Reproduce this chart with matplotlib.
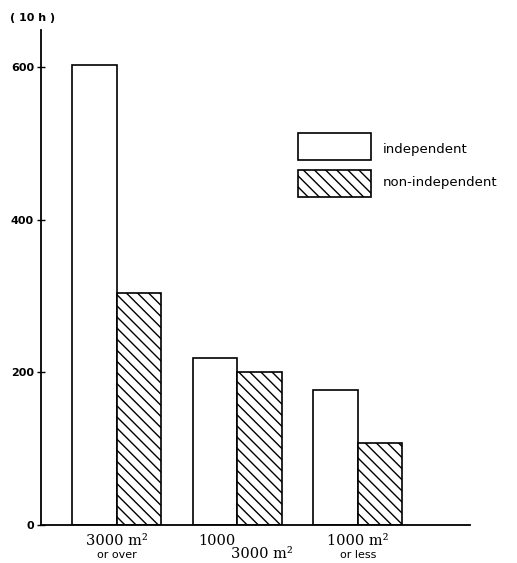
import matplotlib
matplotlib.use("Agg")
import matplotlib.pyplot as plt
from matplotlib.patches import Rectangle
import numpy as np

# area classes (x axis) and hours in units of 10 h
groups = ["3000 m² or over", "1000 - 3000 m²", "1000 m² or less"]
independent = [603, 219, 177]
non_independent = [304, 200, 107]
yticks = [0, 200, 400, 600]

fig = plt.figure(figsize=(5.17, 5.63), dpi=100)
ax = fig.add_axes([0.079, 0.0675, 0.83, 0.88])

x = np.arange(len(groups))
w = 0.37
ax.bar(x - w / 2, independent, w, facecolor="white", edgecolor="black", linewidth=1.2)
ax.bar(x + w / 2, non_independent, w, facecolor="white", edgecolor="black",
       linewidth=1.2, hatch="\\\\\\")

ax.set_xlim(-0.63, 2.93)
ax.set_ylim(0, 649)
for s in ["top", "right"]:
    ax.spines[s].set_visible(False)
ax.spines["left"].set_linewidth(1.3)
ax.spines["bottom"].set_linewidth(1.3)

ax.set_yticks(yticks)
ax.set_yticklabels([str(v) for v in yticks], fontsize=8, fontweight="bold")
ax.tick_params(axis="y", direction="inout", length=6, width=1, pad=2)
ax.set_xticks([])

fig.text(10 / 517, 1 - 18 / 563, "( 10 h )", fontsize=8,
         fontweight="bold", ha="left", va="center")

# x category labels (two lines, mixed fonts)
serif = "DejaVu Serif"
fig.text(117 / 517, 1 - 541 / 563, "3000 m²", family=serif, fontsize=10.5, ha="center", va="center")
fig.text(117 / 517, 1 - 555 / 563, "or over", fontsize=8, ha="center", va="center")
fig.text(217 / 517, 1 - 541 / 563, "1000", family=serif, fontsize=10.5, ha="center", va="center")
fig.text(262 / 517, 1 - 554 / 563, "3000 m²", family=serif, fontsize=10.5, ha="center", va="center")
fig.text(358 / 517, 1 - 541 / 563, "1000 m²", family=serif, fontsize=10.5, ha="center", va="center")
fig.text(358 / 517, 1 - 555 / 563, "or less", fontsize=8, ha="center", va="center")

# legend drawn by hand
fig.patches.append(Rectangle((298 / 517, 1 - 160 / 563), 73 / 517, 27 / 563,
                             transform=fig.transFigure, facecolor="white",
                             edgecolor="black", linewidth=1.2))
fig.patches.append(Rectangle((298 / 517, 1 - 197 / 563), 73 / 517, 27 / 563,
                             transform=fig.transFigure, facecolor="white",
                             edgecolor="black", linewidth=1.2, hatch="\\\\\\"))
fig.text(383 / 517, 1 - 150 / 563, "independent", fontsize=9.5, va="center")
fig.text(383 / 517, 1 - 183 / 563, "non-independent", fontsize=9.5, va="center")

fig.savefig("out.png", dpi=100)
